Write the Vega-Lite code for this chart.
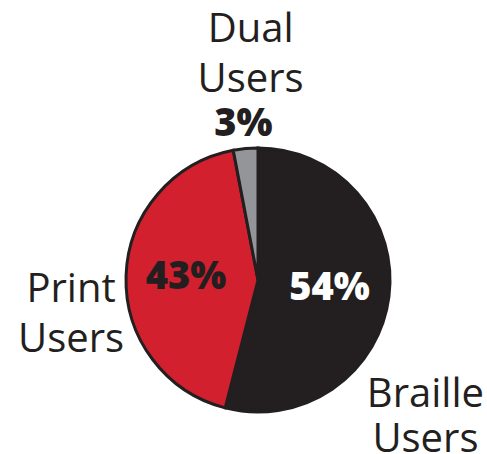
{
  "$schema": "https://vega.github.io/schema/vega-lite/v6.json",
  "width": 458,
  "height": 348,
  "autosize": {"type": "none"},
  "padding": {"left": 29, "top": 106, "right": 0, "bottom": 0},
  "background": "white",
  "view": {"stroke": null},
  "data": {
    "values": [
      {"cat": "Braille", "rank": 1, "value": 54, "pct": "54%", "name": "Braille|Users"},
      {"cat": "Print", "rank": 2, "value": 43, "pct": "43%", "name": "Print|Users"},
      {"cat": "Dual", "rank": 3, "value": 3, "pct": "3%", "name": "Dual|Users"}
    ]
  },
  "encoding": {
    "theta": {"field": "value", "type": "quantitative", "stack": true},
    "order": {"field": "rank", "type": "quantitative"}
  },
  "layer": [
    {
      "mark": {"type": "arc", "radius": 132, "stroke": "#231f20", "strokeWidth": 3},
      "encoding": {
        "color": {
          "field": "cat",
          "type": "nominal",
          "scale": {"domain": ["Braille", "Print", "Dual"], "range": ["#231f20", "#d2202f", "#939598"]},
          "legend": null
        }
      }
    },
    {
      "mark": {"type": "text", "radius": 72, "font": "Open Sans", "fontWeight": 800, "fontSize": 38, "align": "center", "baseline": "middle"},
      "encoding": {
        "detail": {"field": "cat"},
        "text": {"condition": {"test": "datum.cat !== 'Dual'", "field": "pct"}, "value": ""},
        "color": {"condition": {"test": "datum.cat === 'Braille'", "value": "#ffffff"}, "value": "#231f20"}
      }
    },
    {
      "mark": {"type": "text", "radius": 156, "font": "Open Sans", "fontWeight": 800, "fontSize": 38, "align": "center", "baseline": "middle", "color": "#231f20"},
      "encoding": {
        "detail": {"field": "cat"},
        "text": {"condition": {"test": "datum.cat === 'Dual'", "field": "pct"}, "value": ""}
      }
    },
    {
      "mark": {"type": "text", "radius": 238, "dx": 15, "dy": -1, "font": "Open Sans", "fontSize": 40, "lineHeight": 50, "lineBreak": "|", "align": "center", "baseline": "alphabetic", "color": "#231f20"},
      "encoding": {
        "detail": {"field": "cat"},
        "text": {"condition": {"test": "datum.cat === 'Dual'", "field": "name"}, "value": ""}
      }
    },
    {
      "mark": {"type": "text", "radius": 188, "dx": 1, "dy": 28, "font": "Open Sans", "fontSize": 40, "lineHeight": 50, "lineBreak": "|", "align": "center", "baseline": "alphabetic", "color": "#231f20"},
      "encoding": {
        "detail": {"field": "cat"},
        "text": {"condition": {"test": "datum.cat === 'Print'", "field": "name"}, "value": ""}
      }
    },
    {
      "mark": {"type": "text", "radius": 200, "dx": -31, "dy": 102, "font": "Open Sans", "fontSize": 40, "lineHeight": 45, "lineBreak": "|", "align": "center", "baseline": "alphabetic", "color": "#231f20"},
      "encoding": {
        "detail": {"field": "cat"},
        "text": {"condition": {"test": "datum.cat === 'Braille'", "field": "name"}, "value": ""}
      }
    }
  ]
}
